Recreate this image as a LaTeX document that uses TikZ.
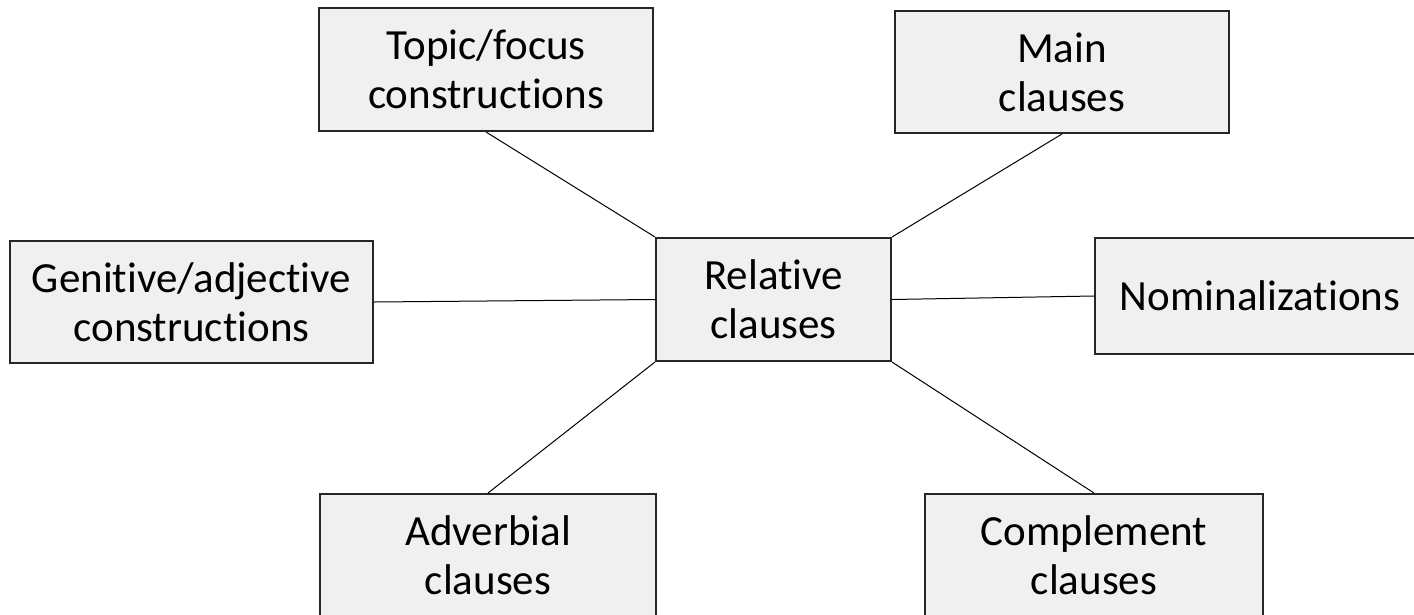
\documentclass[tikz,border=0pt]{standalone}
\usepackage{fontspec}
\setmainfont{Carlito}[Ligatures={NoCommon}]
\definecolor{boxfill}{HTML}{F0F0F0}
\definecolor{boxline}{HTML}{262626}
\begin{document}
\begin{tikzpicture}[x=1pt,y=-1pt,
  box/.style={draw=boxline, line width=2pt, fill=boxfill, align=center,
    inner sep=0pt, font=\fontsize{43}{49}\selectfont},
  link/.style={draw=black, line width=1pt}]
\useasboundingbox (0,0) rectangle (1414,614);
\clip (0,0) rectangle (1414,614);
% outer categories
\node[box, minimum width=334pt, minimum height=123pt] (topic) at (486,69.5) {Topic/focus\\constructions};
\node[box, minimum width=334pt, minimum height=122pt] (main) at (1062,72) {Main\\clauses};
\node[box, minimum width=363pt, minimum height=122pt] (gen) at (191.5,302) {Genitive/adjective\\constructions};
\node[box, minimum width=330pt, minimum height=116pt] (nom) at (1260,296) {Nominalizations};
\node[box, minimum width=336pt, minimum height=123pt] (adv) at (488,555.5) {Adverbial\\clauses};
\node[box, minimum width=338pt, minimum height=123pt] (comp) at (1094,555.5) {Complement\\clauses};
% central category
\node[box, minimum width=235pt, minimum height=123pt] (rel) at (773.5,299.5) {Relative\\clauses};
% connectors
\draw[link] (rel.north west) -- (topic.south);
\draw[link] (rel.north east) -- (main.south);
\draw[link] (rel.west) -- (gen.east);
\draw[link] (rel.east) -- (nom.west);
\draw[link] (rel.south west) -- (adv.north);
\draw[link] (rel.south east) -- (comp.north);
\end{tikzpicture}
\end{document}
